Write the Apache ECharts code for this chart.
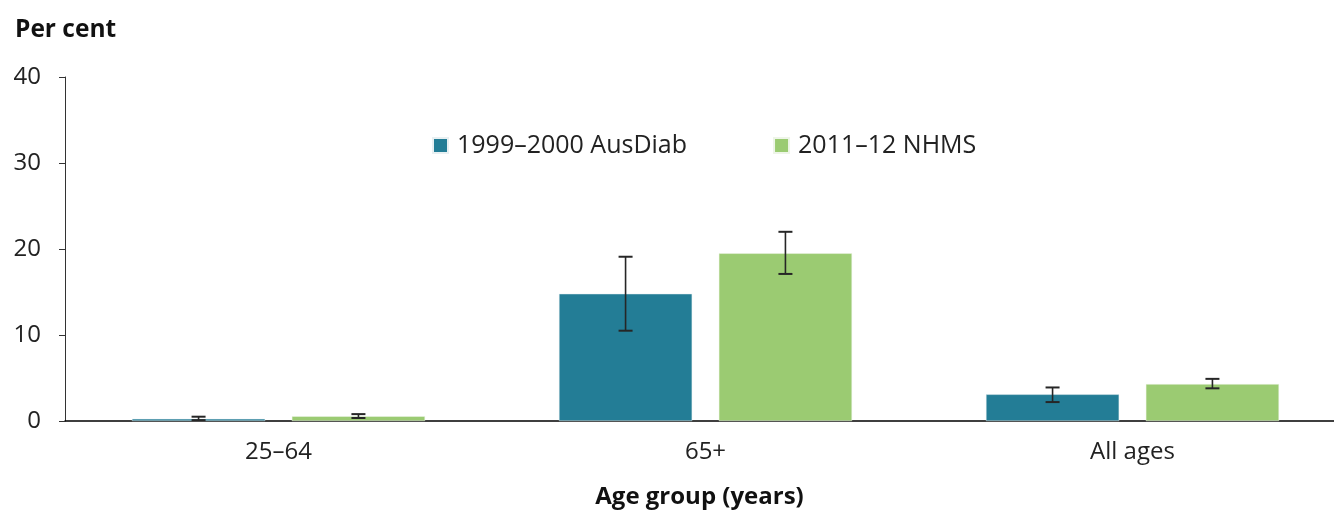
<!DOCTYPE html>
<html>
<head>
<meta charset="utf-8">
<script src="https://cdn.jsdelivr.net/npm/echarts@6/dist/echarts.min.js"></script>
<style>
  html, body { margin: 0; padding: 0; background: #fff; }
  #chart { width: 1334px; height: 512px; }
</style>
</head>
<body>
<div id="chart"></div>
<script>
// categories and series
const ageGroups = ['25–64', '65+', 'All ages'];
const seriesNames = ['1999–2000 AusDiab', '2011–12 NHMS'];
const ausDiab = [0.25, 14.8, 3.1];
const ausDiabLow = [0.1, 10.5, 2.2];
const ausDiabHigh = [0.5, 19.1, 3.9];
const nhms = [0.55, 19.5, 4.3];
const nhmsLow = [0.35, 17.1, 3.8];
const nhmsHigh = [0.8, 22.0, 4.9];
const colors = ['#237D96', '#9BCB72'];

const BAR_W = 0.312, BAR_GAP = 0.2;

// error bar drawn with a custom series, shifted to the bar of series idx
function errorSeries(idx, lows, highs) {
  return {
    type: 'custom',
    name: seriesNames[idx] + ' CI',
    z: 10,
    silent: true,
    data: ageGroups.map((c, i) => [i, lows[i], highs[i]]),
    renderItem: function(params, api) {
      const i = api.value(0);
      const lo = api.coord([i, api.value(1)]);
      const hi = api.coord([i, api.value(2)]);
      const catW = api.size([1, 0])[0];
      const shift = catW * (BAR_W + BAR_W * BAR_GAP) / 2 * (idx === 0 ? -1 : 1);
      const x = lo[0] + shift;
      const cap = 7;
      const style = { stroke: '#262626', lineWidth: 1.6 };
      return {
        type: 'group',
        children: [
          { type: 'line', shape: { x1: x, y1: lo[1], x2: x, y2: hi[1] }, style: style },
          { type: 'line', shape: { x1: x - cap, y1: lo[1], x2: x + cap, y2: lo[1] }, style: { stroke: '#262626', lineWidth: 2 } },
          { type: 'line', shape: { x1: x - cap, y1: hi[1], x2: x + cap, y2: hi[1] }, style: { stroke: '#262626', lineWidth: 2 } }
        ]
      };
    }
  };
}

const chart = echarts.init(document.getElementById('chart'));
chart.setOption({
  animation: false,
  textStyle: { fontFamily: 'Open Sans' },
  title: {
    text: 'Per cent',
    left: 10, top: 13,
    textStyle: { fontSize: 24.5, fontWeight: 'bold', color: '#111', fontFamily: 'Open Sans' }
  },
  legend: {
    data: seriesNames,
    left: 427, top: 128,
    itemWidth: 15, itemHeight: 15, itemGap: 86,
    icon: 'rect',
    textStyle: { fontSize: 25, color: '#222', padding: [0, 0, 0, 4] }
  },
  grid: { left: 65, width: 1281, top: 77, height: 344, outerBoundsMode: 'none', containLabel: false },
  xAxis: {
    type: 'category',
    data: ageGroups,
    name: 'Age group (years)',
    nameLocation: 'middle',
    nameGap: 64,
    nameTextStyle: { fontSize: 24, fontWeight: 'bold', color: '#111', padding: [0, 12, 0, 0] },
    axisLine: { lineStyle: { color: '#000', width: 1.5 } },
    axisTick: { show: false },
    axisLabel: { fontSize: 24, color: '#222', margin: 19 }
  },
  yAxis: {
    type: 'value',
    min: 0, max: 40, interval: 10,
    axisLine: { show: true, lineStyle: { color: '#333' } },
    axisTick: { show: true, length: 6, lineStyle: { color: '#333' } },
    splitLine: { show: false },
    axisLabel: { fontSize: 24, color: '#222', margin: 24 }
  },
  series: [
    {
      type: 'bar', name: seriesNames[0], data: ausDiab,
      barWidth: (BAR_W * 100) + '%', barGap: (BAR_GAP * 100) + '%',
      itemStyle: { color: colors[0], borderColor: '#e8f0f2', borderWidth: 0.5 }
    },
    {
      type: 'bar', name: seriesNames[1], data: nhms,
      barWidth: (BAR_W * 100) + '%',
      itemStyle: { color: colors[1], borderColor: '#eef5e8', borderWidth: 0.5 }
    },
    errorSeries(0, ausDiabLow, ausDiabHigh),
    errorSeries(1, nhmsLow, nhmsHigh)
  ]
});
</script>
</body>
</html>
